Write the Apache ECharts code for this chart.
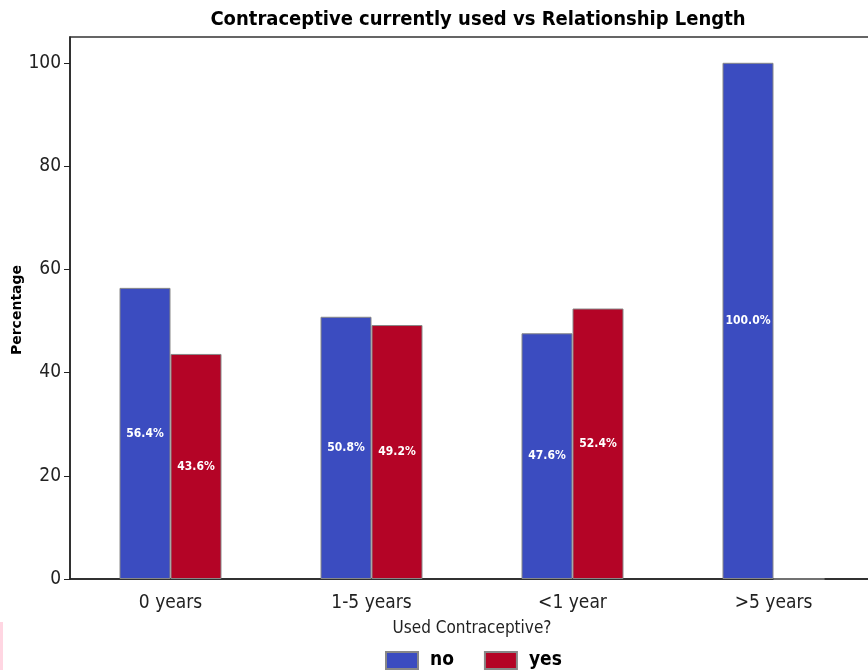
<!DOCTYPE html>
<html>
<head>
<meta charset="utf-8">
<script src="https://cdn.jsdelivr.net/npm/echarts@6/dist/echarts.min.js"></script>
<style>
  html, body { margin: 0; padding: 0; background: #fff; }
  #chart { width: 868px; height: 670px; }
</style>
</head>
<body>
<div id="chart"></div>
<script>
var categories = ['0 years', '1-5 years', '<1 year', '>5 years'];
var noValues = [56.4, 50.8, 47.6, 100.0];
var yesValues = [43.6, 49.2, 52.4, 0];
var yTicks = [0, 20, 40, 60, 80, 100];

var font = '"DejaVu Sans Condensed", "DejaVu Sans", sans-serif';

var myChart = echarts.init(document.getElementById('chart'));

function barLabel(p) {
    if (!p.value) return '';
    return p.value.toFixed(1) + '%';
}

myChart.setOption({
    animation: false,
    textStyle: { fontFamily: font },
    title: {
        text: 'Contraceptive currently used vs Relationship Length',
        left: 473,
        textAlign: 'center',
        top: 5,
        textStyle: { fontFamily: font, fontSize: 20, fontWeight: 'bold', color: '#000' }
    },
    grid: {
        left: 70,
        top: 37,
        right: -6,
        bottom: 91,
        outerBoundsMode: 'none',
        show: true,
        borderColor: '#333',
        borderWidth: 1.5,
        backgroundColor: 'transparent'
    },
    legend: {
        data: ['no', 'yes'],
        left: 380,
        top: 646,
        itemWidth: 32,
        itemHeight: 17,
        itemGap: 30,
        icon: 'rect',
        textStyle: { fontFamily: font, fontSize: 19, fontWeight: 'bold', color: '#000', padding: [0, 0, 0, 7] }
    },
    xAxis: {
        type: 'category',
        data: categories,
        name: 'Used Contraceptive?',
        nameLocation: 'middle',
        nameGap: 41,
        nameTextStyle: { fontFamily: font, fontSize: 17, color: '#222' },
        axisLine: { lineStyle: { color: '#222', width: 1.5 } },
        axisTick: { alignWithLabel: true, length: 6, lineStyle: { color: '#222' } },
        axisLabel: { fontFamily: font, fontSize: 19, color: '#222', margin: 15 }
    },
    yAxis: {
        type: 'value',
        min: 0,
        max: 105,
        interval: 20,
        splitLine: { show: false },
        axisLine: { show: true, lineStyle: { color: '#222', width: 1.5 } },
        axisTick: { show: true, length: 6, customValues: yTicks, lineStyle: { color: '#222' } },
        axisLabel: {
            fontFamily: font, fontSize: 19, color: '#222', margin: 9,
            customValues: yTicks
        }
    },
    graphic: [{
        type: 'rect',
        shape: { x: 0, y: 622, width: 3, height: 48 },
        style: { fill: '#ffd6e2' }
    }, {
        // y axis title, placed by hand
        type: 'text',
        x: 17,
        y: 310,
        rotation: Math.PI / 2,
        style: {
            text: 'Percentage',
            fill: '#000',
            font: 'bold 14px "DejaVu Sans", sans-serif',
            align: 'center',
            verticalAlign: 'middle'
        }
    }],
    series: [{
        name: 'no',
        type: 'bar',
        data: noValues,
        barWidth: 51,
        barGap: '0%',
        itemStyle: { color: '#3b4cc0', borderColor: '#888', borderWidth: 1 },
        label: {
            show: true, position: 'inside', formatter: barLabel,
            color: '#fff', fontFamily: font, fontSize: 12, fontWeight: 'bold'
        }
    }, {
        name: 'yes',
        type: 'bar',
        data: yesValues,
        barWidth: 51,
        barGap: '0%',
        itemStyle: { color: '#b40426', borderColor: '#888', borderWidth: 1 },
        label: {
            show: true, position: 'inside', formatter: barLabel,
            color: '#fff', fontFamily: font, fontSize: 12, fontWeight: 'bold'
        }
    }]
});
</script>
</body>
</html>
